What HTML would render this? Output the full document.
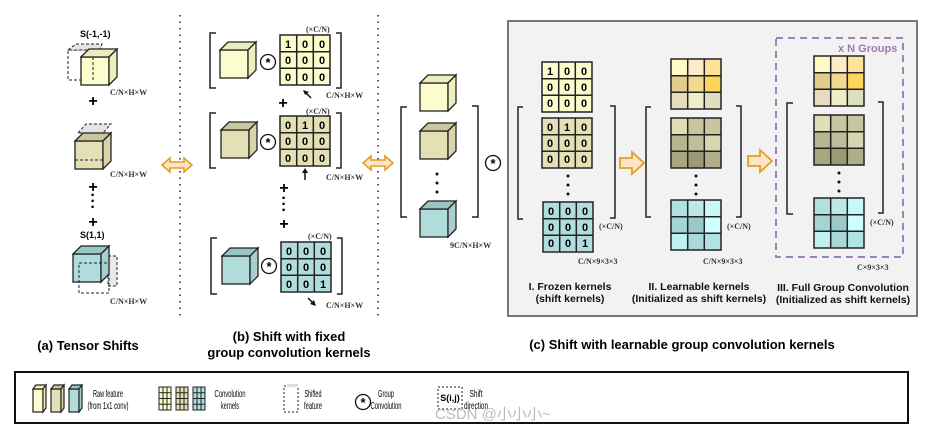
<!DOCTYPE html>
<html><head><meta charset="utf-8"><style>
html,body{margin:0;padding:0;background:#fff;width:943px;height:432px;overflow:hidden}
svg{display:block;font-family:"Liberation Sans",sans-serif}
.n{font-size:11px;font-weight:bold;text-anchor:middle}
.lab{font-family:"Liberation Serif",serif;font-size:8px;font-weight:bold;fill:#333}
.cap{font-size:13px;font-weight:bold;text-anchor:middle}
.sm{font-size:10.5px;text-anchor:middle}
.pl{font-size:16px;font-weight:bold;text-anchor:middle}
</style></head><body>
<svg width="943" height="432" viewBox="0 0 943 432" xmlns="http://www.w3.org/2000/svg">
<defs>
<g id="cy" stroke="#222" stroke-width="1.3"><rect x="0" y="0" width="28" height="28" fill="#fdfccc"/><polygon points="0,0 8,-8 36,-8 28,0" fill="#eeedbf"/><polygon points="28,0 36,-8 36,20 28,28" fill="#efeebe"/></g>
<g id="ck" stroke="#222" stroke-width="1.3"><rect x="0" y="0" width="28" height="28" fill="#e2e0b4"/><polygon points="0,0 8,-8 36,-8 28,0" fill="#cac79c"/><polygon points="28,0 36,-8 36,20 28,28" fill="#d6d4a8"/></g>
<g id="ct" stroke="#222" stroke-width="1.3"><rect x="0" y="0" width="28" height="28" fill="#b0dcdc"/><polygon points="0,0 8,-8 36,-8 28,0" fill="#98c6c6"/><polygon points="28,0 36,-8 36,20 28,28" fill="#a6d0d0"/></g>
<g id="gl" stroke="#222" stroke-width="1.5" fill="none"><rect x="0" y="0" width="50" height="50"/><line x1="16.7" y1="0" x2="16.7" y2="50"/><line x1="33.3" y1="0" x2="33.3" y2="50"/><line x1="0" y1="16.7" x2="50" y2="16.7"/><line x1="0" y1="33.3" x2="50" y2="33.3"/></g>
<g id="lg" stroke="#222" stroke-width="1" fill="none"><rect x="0" y="0" width="12" height="23"/><line x1="4" y1="0" x2="4" y2="23"/><line x1="8" y1="0" x2="8" y2="23"/><line x1="0" y1="5.75" x2="12" y2="5.75"/><line x1="0" y1="11.5" x2="12" y2="11.5"/><line x1="0" y1="17.25" x2="12" y2="17.25"/></g>
<g id="ast"><circle cx="0" cy="0" r="7.5" fill="#fff" stroke="#111" stroke-width="1.3"/><text x="0" y="5" font-size="13" font-weight="bold" text-anchor="middle">*</text></g>
<g id="dar"><polygon points="0,0 8,-7 8,-3 22,-3 22,-7 30,0 22,7 22,3 8,3 8,7" fill="#fde3c8" stroke="#e3a020" stroke-width="1.6"/></g>
<g id="rar"><polygon points="0,-5 12,-5 12,-11 24,0 12,11 12,5 0,5" fill="#fde3c8" stroke="#e3a020" stroke-width="1.8"/></g>
</defs>

<line x1="180" y1="15" x2="180" y2="320" stroke="#222" stroke-width="1.5" stroke-dasharray="1.5,5"/>
<line x1="378" y1="15" x2="378" y2="320" stroke="#222" stroke-width="1.5" stroke-dasharray="1.5,5"/>

<text x="80" y="37" font-size="9" font-weight="bold">S(-1,-1)</text>
<rect x="68" y="50" width="32" height="30" fill="#fff" stroke="#222" stroke-dasharray="3,2"/>
<polygon points="68,50 76,44 102,44 100,50" fill="#e4e4e4" stroke="#222" stroke-dasharray="3,2"/>
<use href="#cy" x="81" y="57"/>
<line x1="93" y1="57" x2="93" y2="80" stroke="#222" stroke-dasharray="3,2"/>
<text x="110" y="95" class="lab">C/N×H×W</text>
<text x="93" y="106" class="pl">+</text>
<polygon points="78,133 86,124 111,124 103,133" fill="#e4e4e4" stroke="#222" stroke-dasharray="3,2"/>
<use href="#ck" x="75" y="141"/>
<line x1="75" y1="160" x2="103" y2="160" stroke="#222" stroke-dasharray="3,2"/>
<text x="110" y="177" class="lab">C/N×H×W</text>
<text x="93" y="192" class="pl">+</text>
<text x="93" y="200" class="pl" font-size="12">·</text><text x="93" y="206" class="pl" font-size="12">·</text><text x="93" y="212" class="pl" font-size="12">·</text>
<text x="93" y="227" class="pl">+</text>
<text x="80" y="238" font-size="9" font-weight="bold">S(1,1)</text>
<rect x="108" y="256" width="9" height="30" fill="#e8e8e8" stroke="#222" stroke-dasharray="3,2"/>
<use href="#ct" x="73" y="254"/>
<rect x="79" y="263" width="30" height="30" fill="none" stroke="#222" stroke-dasharray="3,2"/>
<text x="110" y="304" class="lab">C/N×H×W</text>

<use href="#dar" x="162" y="165"/>
<use href="#dar" x="363" y="163"/>

<path d="M216,33 H210 V88 H216" fill="none" stroke="#222" stroke-width="1.5"/>
<path d="M336,33 H341 V88 H336" fill="none" stroke="#222" stroke-width="1.5"/>
<use href="#cy" x="220" y="50"/>
<use href="#ast" x="268" y="62"/>
<rect x="280" y="36" width="50" height="48" fill="#fdfccc"/>
<use href="#gl" x="280" y="35"/>
<g class="n"><text x="288" y="48">1</text><text x="305" y="48">0</text><text x="322" y="48">0</text><text x="288" y="64">0</text><text x="305" y="64">0</text><text x="322" y="64">0</text><text x="288" y="81">0</text><text x="305" y="81">0</text><text x="322" y="81">0</text></g>
<text x="306" y="32" class="lab">(×C/N)</text>
<text x="326" y="98" class="lab">C/N×H×W</text>
<line x1="311" y1="98" x2="305" y2="92" stroke="#111" stroke-width="1.5"/><polygon points="303,90 309,92 305,95" fill="#111"/>
<text x="283" y="108" class="pl" font-size="14">+</text>
<path d="M216,113 H210 V168 H216" fill="none" stroke="#222" stroke-width="1.5"/>
<path d="M336,113 H341 V168 H336" fill="none" stroke="#222" stroke-width="1.5"/>
<use href="#ck" x="221" y="130"/>
<use href="#ast" x="268" y="142"/>
<rect x="280" y="116" width="50" height="49" fill="#e2e0b4"/>
<use href="#gl" x="280" y="116"/>
<g class="n"><text x="288" y="129">0</text><text x="305" y="129">1</text><text x="322" y="129">0</text><text x="288" y="145">0</text><text x="305" y="145">0</text><text x="322" y="145">0</text><text x="288" y="162">0</text><text x="305" y="162">0</text><text x="322" y="162">0</text></g>
<text x="306" y="114" class="lab">(×C/N)</text>
<text x="326" y="180" class="lab">C/N×H×W</text>
<line x1="305" y1="180" x2="305" y2="172" stroke="#111" stroke-width="1.5"/><polygon points="302,173 305,168 308,173" fill="#111"/>
<text x="284" y="193" class="pl" font-size="14">+</text>
<text x="284" y="203" class="pl" font-size="12">·</text><text x="284" y="209" class="pl" font-size="12">·</text><text x="284" y="215" class="pl" font-size="12">·</text>
<text x="284" y="229" class="pl" font-size="14">+</text>
<path d="M217,238 H211 V294 H217" fill="none" stroke="#222" stroke-width="1.5"/>
<path d="M337,238 H342 V294 H337" fill="none" stroke="#222" stroke-width="1.5"/>
<use href="#ct" x="222" y="256"/>
<use href="#ast" x="269" y="266"/>
<rect x="281" y="242" width="50" height="49" fill="#b0dcdc"/>
<use href="#gl" x="281" y="242"/>
<g class="n"><text x="289" y="255">0</text><text x="306" y="255">0</text><text x="323" y="255">0</text><text x="289" y="271">0</text><text x="306" y="271">0</text><text x="323" y="271">0</text><text x="289" y="288">0</text><text x="306" y="288">0</text><text x="323" y="288">1</text></g>
<text x="308" y="239" class="lab">(×C/N)</text>
<text x="326" y="308" class="lab">C/N×H×W</text>
<line x1="308" y1="298" x2="314" y2="304" stroke="#111" stroke-width="1.5"/><polygon points="316,306 310,304 314,300" fill="#111"/>

<path d="M407,107 H401 V217 H407" fill="none" stroke="#222" stroke-width="1.5"/>
<path d="M472,106 H478 V217 H472" fill="none" stroke="#222" stroke-width="1.5"/>
<use href="#cy" x="420" y="83"/>
<use href="#ck" x="420" y="131"/>
<use href="#ct" x="420" y="209"/>
<circle cx="437" cy="174" r="1.5" fill="#111"/><circle cx="437" cy="183" r="1.5" fill="#111"/><circle cx="437" cy="192" r="1.5" fill="#111"/>
<use href="#ast" x="493" y="163"/>
<text x="450" y="248" class="lab" font-size="7">9C/N×H×W</text>

<rect x="508" y="21" width="409" height="295" fill="#f2f2f2" stroke="#777" stroke-width="2"/>
<path d="M523,107 H518 V219 H523" fill="none" stroke="#222" stroke-width="1.5"/>
<path d="M610,106 H615 V218 H610" fill="none" stroke="#222" stroke-width="1.5"/>
<rect x="542" y="62" width="50" height="49" fill="#fdfccc"/><use href="#gl" x="542" y="62"/>
<g class="n"><text x="550" y="75">1</text><text x="567" y="75">0</text><text x="584" y="75">0</text><text x="550" y="91">0</text><text x="567" y="91">0</text><text x="584" y="91">0</text><text x="550" y="107">0</text><text x="567" y="107">0</text><text x="584" y="107">0</text></g>
<rect x="542" y="118" width="50" height="49" fill="#e2e0b4"/><use href="#gl" x="542" y="118"/>
<g class="n"><text x="550" y="131">0</text><text x="567" y="131">1</text><text x="584" y="131">0</text><text x="550" y="147">0</text><text x="567" y="147">0</text><text x="584" y="147">0</text><text x="550" y="163">0</text><text x="567" y="163">0</text><text x="584" y="163">0</text></g>
<circle cx="568" cy="176" r="1.5" fill="#111"/><circle cx="568" cy="185" r="1.5" fill="#111"/><circle cx="568" cy="194" r="1.5" fill="#111"/>
<rect x="543" y="202" width="50" height="49" fill="#b0dcdc"/><use href="#gl" x="543" y="202"/>
<g class="n"><text x="551" y="215">0</text><text x="568" y="215">0</text><text x="585" y="215">0</text><text x="551" y="231">0</text><text x="568" y="231">0</text><text x="585" y="231">0</text><text x="551" y="247">0</text><text x="568" y="247">0</text><text x="585" y="247">1</text></g>
<text x="599" y="229" class="lab">(×C/N)</text>
<text x="578" y="264" class="lab" font-size="7">C/N×9×3×3</text>
<use href="#rar" x="620" y="163"/>
<path d="M651,107 H646 V217 H651" fill="none" stroke="#222" stroke-width="1.5"/>
<path d="M736,106 H741 V217 H736" fill="none" stroke="#222" stroke-width="1.5"/>
<g transform="translate(671,59)"><rect x="0" y="0" width="16.7" height="16.7" fill="#fefac6"/><rect x="16.7" y="0" width="16.7" height="16.7" fill="#fdebc8"/><rect x="33.3" y="0" width="16.7" height="16.7" fill="#fde29a"/><rect x="0" y="16.7" width="16.7" height="16.7" fill="#e0cc8c"/><rect x="16.7" y="16.7" width="16.7" height="16.7" fill="#f0d890"/><rect x="33.3" y="16.7" width="16.7" height="16.7" fill="#fdd55a"/><rect x="0" y="33.3" width="16.7" height="16.7" fill="#e8dcc0"/><rect x="16.7" y="33.3" width="16.7" height="16.7" fill="#eeeec8"/><rect x="33.3" y="33.3" width="16.7" height="16.7" fill="#dedec0"/><use href="#gl"/></g>
<g transform="translate(671,118)"><rect x="0" y="0" width="16.7" height="16.7" fill="#e0deb4"/><rect x="16.7" y="0" width="16.7" height="16.7" fill="#c8c6a0"/><rect x="33.3" y="0" width="16.7" height="16.7" fill="#c8c6a0"/><rect x="0" y="16.7" width="16.7" height="16.7" fill="#b8b690"/><rect x="16.7" y="16.7" width="16.7" height="16.7" fill="#c0be98"/><rect x="33.3" y="16.7" width="16.7" height="16.7" fill="#d8d6b0"/><rect x="0" y="33.3" width="16.7" height="16.7" fill="#a8a680"/><rect x="16.7" y="33.3" width="16.7" height="16.7" fill="#9c9a74"/><rect x="33.3" y="33.3" width="16.7" height="16.7" fill="#b0ae88"/><use href="#gl"/></g>
<circle cx="696" cy="176" r="1.5" fill="#111"/><circle cx="696" cy="185" r="1.5" fill="#111"/><circle cx="696" cy="194" r="1.5" fill="#111"/>
<g transform="translate(671,200)"><rect x="0" y="0" width="16.7" height="16.7" fill="#b0e0e0"/><rect x="16.7" y="0" width="16.7" height="16.7" fill="#bce8e8"/><rect x="33.3" y="0" width="16.7" height="16.7" fill="#c8f8f8"/><rect x="0" y="16.7" width="16.7" height="16.7" fill="#a4d4d4"/><rect x="16.7" y="16.7" width="16.7" height="16.7" fill="#9cc8c8"/><rect x="33.3" y="16.7" width="16.7" height="16.7" fill="#d0ffff"/><rect x="0" y="33.3" width="16.7" height="16.7" fill="#c0f0f0"/><rect x="16.7" y="33.3" width="16.7" height="16.7" fill="#a8d8d8"/><rect x="33.3" y="33.3" width="16.7" height="16.7" fill="#b0e4e4"/><use href="#gl"/></g>
<text x="727" y="229" class="lab">(×C/N)</text>
<text x="703" y="264" class="lab" font-size="7">C/N×9×3×3</text>
<use href="#rar" x="748" y="161"/>
<rect x="776" y="38" width="127" height="219" fill="none" stroke="#a080b8" stroke-width="2" stroke-dasharray="7,5"/>
<text x="838" y="52" font-size="11" font-weight="bold" fill="#9a7ab4">x N Groups</text>
<path d="M793,103 H787 V214 H793" fill="none" stroke="#222" stroke-width="1.5"/>
<path d="M878,102 H883 V213 H878" fill="none" stroke="#222" stroke-width="1.5"/>
<g transform="translate(814,56)"><rect x="0" y="0" width="16.7" height="16.7" fill="#fefac6"/><rect x="16.7" y="0" width="16.7" height="16.7" fill="#fdebc8"/><rect x="33.3" y="0" width="16.7" height="16.7" fill="#fde29a"/><rect x="0" y="16.7" width="16.7" height="16.7" fill="#e0cc8c"/><rect x="16.7" y="16.7" width="16.7" height="16.7" fill="#f0d890"/><rect x="33.3" y="16.7" width="16.7" height="16.7" fill="#fdd55a"/><rect x="0" y="33.3" width="16.7" height="16.7" fill="#e8dcc0"/><rect x="16.7" y="33.3" width="16.7" height="16.7" fill="#eeeec8"/><rect x="33.3" y="33.3" width="16.7" height="16.7" fill="#dedec0"/><use href="#gl"/></g>
<g transform="translate(814,115)"><rect x="0" y="0" width="16.7" height="16.7" fill="#e0deb4"/><rect x="16.7" y="0" width="16.7" height="16.7" fill="#c8c6a0"/><rect x="33.3" y="0" width="16.7" height="16.7" fill="#c8c6a0"/><rect x="0" y="16.7" width="16.7" height="16.7" fill="#b8b690"/><rect x="16.7" y="16.7" width="16.7" height="16.7" fill="#c0be98"/><rect x="33.3" y="16.7" width="16.7" height="16.7" fill="#d8d6b0"/><rect x="0" y="33.3" width="16.7" height="16.7" fill="#a8a680"/><rect x="16.7" y="33.3" width="16.7" height="16.7" fill="#9c9a74"/><rect x="33.3" y="33.3" width="16.7" height="16.7" fill="#b0ae88"/><use href="#gl"/></g>
<circle cx="839" cy="173" r="1.5" fill="#111"/><circle cx="839" cy="182" r="1.5" fill="#111"/><circle cx="839" cy="191" r="1.5" fill="#111"/>
<g transform="translate(814,198)"><rect x="0" y="0" width="16.7" height="16.7" fill="#b0e0e0"/><rect x="16.7" y="0" width="16.7" height="16.7" fill="#bce8e8"/><rect x="33.3" y="0" width="16.7" height="16.7" fill="#c8f8f8"/><rect x="0" y="16.7" width="16.7" height="16.7" fill="#a4d4d4"/><rect x="16.7" y="16.7" width="16.7" height="16.7" fill="#9cc8c8"/><rect x="33.3" y="16.7" width="16.7" height="16.7" fill="#d0ffff"/><rect x="0" y="33.3" width="16.7" height="16.7" fill="#c0f0f0"/><rect x="16.7" y="33.3" width="16.7" height="16.7" fill="#a8d8d8"/><rect x="33.3" y="33.3" width="16.7" height="16.7" fill="#b0e4e4"/><use href="#gl"/></g>
<text x="870" y="225" class="lab">(×C/N)</text>
<text x="857" y="270" class="lab" font-size="7">C×9×3×3</text>

<g font-size="10.5" font-weight="bold" text-anchor="middle" fill="#111">
<text x="570" y="290">I. Frozen kernels</text><text x="570" y="302">(shift kernels)</text>
<text x="699" y="290">II. Learnable kernels</text><text x="699" y="302">(Initialized as shift kernels)</text>
<text x="843" y="291">III. Full Group Convolution</text><text x="843" y="303">(Initialized as shift kernels)</text>
</g>

<text x="88" y="350" class="cap">(a) Tensor Shifts</text>
<text x="289" y="341" class="cap">(b) Shift with fixed</text>
<text x="289" y="357" class="cap">group convolution kernels</text>
<text x="682" y="349" class="cap">(c) Shift with learnable group convolution kernels</text>

<rect x="15" y="372" width="893" height="51" fill="#fff" stroke="#111" stroke-width="2"/>
<g stroke="#222" stroke-width="1.2">
<rect x="33" y="389" width="10" height="23" fill="#fdfccc"/><polygon points="33,389 36,385 46,385 43,389" fill="#eeedbf"/><polygon points="43,389 46,385 46,408 43,412" fill="#efeebe"/>
<rect x="51" y="389" width="10" height="23" fill="#e2e0b4"/><polygon points="51,389 54,385 64,385 61,389" fill="#cac79c"/><polygon points="61,389 64,385 64,408 61,412" fill="#d6d4a8"/>
<rect x="69" y="389" width="10" height="23" fill="#b0dcdc"/><polygon points="69,389 72,385 82,385 79,389" fill="#98c6c6"/><polygon points="79,389 82,385 82,408 79,412" fill="#a6d0d0"/>
</g>
<g class="sm">
<text x="108" y="397" textLength="30" lengthAdjust="spacingAndGlyphs">Raw feature</text><text x="108" y="409" textLength="41" lengthAdjust="spacingAndGlyphs">(from 1x1 conv)</text>
<text x="230" y="397" textLength="31" lengthAdjust="spacingAndGlyphs">Convolution</text><text x="230" y="409" textLength="18" lengthAdjust="spacingAndGlyphs">kernels</text>
<text x="313" y="397" textLength="17" lengthAdjust="spacingAndGlyphs">Shifted</text><text x="313" y="409" textLength="18" lengthAdjust="spacingAndGlyphs">feature</text>
<text x="386" y="397" textLength="16" lengthAdjust="spacingAndGlyphs">Group</text><text x="386" y="409" textLength="31" lengthAdjust="spacingAndGlyphs">Convolution</text>
<text x="476" y="397" textLength="13" lengthAdjust="spacingAndGlyphs">Shift</text><text x="476" y="409" textLength="24" lengthAdjust="spacingAndGlyphs">direction</text>
</g>
<rect x="159" y="387" width="12" height="23" fill="#fdfccc"/><use href="#lg" x="159" y="387"/>
<rect x="176" y="387" width="12" height="23" fill="#e2e0b4"/><use href="#lg" x="176" y="387"/>
<rect x="193" y="387" width="12" height="23" fill="#b0dcdc"/><use href="#lg" x="193" y="387"/>
<rect x="284" y="386" width="14" height="26" fill="none" stroke="#222" stroke-dasharray="2,2"/>
<rect x="287" y="384" width="11" height="3" fill="#ddd"/>
<use href="#ast" x="363" y="402"/>
<rect x="438" y="387" width="24" height="22" fill="none" stroke="#222" stroke-dasharray="2,2"/>
<text x="450" y="401" font-size="9" font-weight="bold" text-anchor="middle">S(i,j)</text>
<text x="435" y="419" font-size="15" fill="#bbb">CSDN @小小小~</text>
</svg>
</body></html>
